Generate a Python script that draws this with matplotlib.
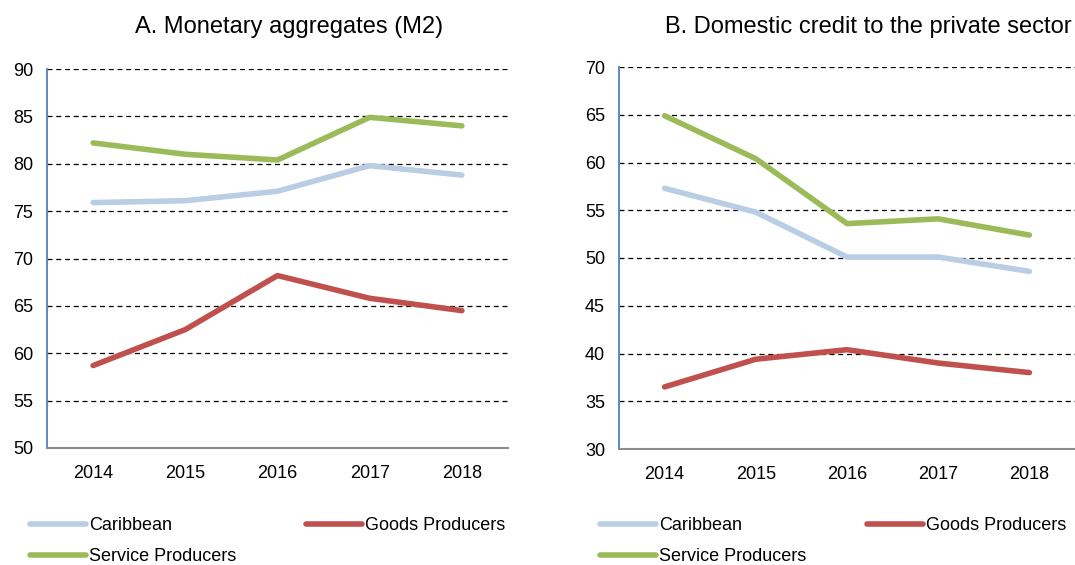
import numpy as np
import matplotlib.pyplot as plt

plt.rcParams['font.family'] = ['Liberation Sans', 'DejaVu Sans']

years = ['2014', '2015', '2016', '2017', '2018']

# Panel A: monetary aggregates (M2)
m2_caribbean = [75.9, 76.1, 77.1, 79.8, 78.8]
m2_goods = [58.7, 62.5, 68.2, 65.8, 64.5]
m2_service = [82.2, 81.0, 80.4, 84.9, 84.0]

# Panel B: domestic credit to the private sector
cr_caribbean = [57.3, 54.8, 50.1, 50.1, 48.6]
cr_goods = [36.5, 39.4, 40.4, 39.0, 38.0]
cr_service = [64.9, 60.4, 53.6, 54.1, 52.4]

series_names = ['Caribbean', 'Goods Producers', 'Service Producers']
colors = ['#B9CDE5', '#C0504D', '#9BBB59']

fig = plt.figure(figsize=(10.75, 5.65), dpi=100)
W, H = 1075, 565
axA = fig.add_axes([47 / W, 1 - 448 / H, (508 - 47) / W, (448 - 69) / H])
axB = fig.add_axes([619 / W, 1 - 449 / H, (1075 - 619) / W, (449 - 67) / H])


def draw(ax, data, ylim, title, title_x, legend_x, colspace):
    x = np.arange(len(years))
    lines = []
    for vals, c, name in zip(data, colors, series_names):
        l, = ax.plot(x, vals, color=c, lw=4, label=name, solid_capstyle='round')
        lines.append(l)
    ax.set_xlim(-0.5, len(years) - 0.5)
    ax.set_ylim(*ylim)
    ax.set_yticks(np.arange(ylim[0], ylim[1] + 1, 5))
    ax.set_xticks(x)
    ax.set_xticklabels(years)
    ax.tick_params(axis='y', length=0, labelsize=13, pad=10)
    ax.tick_params(axis='x', length=0, labelsize=13, pad=12)
    ax.yaxis.grid(True, color='black', linestyle=(0, (4, 3)), lw=0.9)
    ax.set_axisbelow(True)
    for s in ['top', 'right']:
        ax.spines[s].set_visible(False)
    ax.spines['left'].set_color('#4F81BD')
    ax.spines['left'].set_linewidth(1.3)
    ax.spines['bottom'].set_color('#8C8C8C')
    ax.spines['bottom'].set_linewidth(1.5)
    fig.text(title_x / W, 1 - 27 / H, title, fontsize=17, ha='center', va='center')
    # column-major fill: Caribbean, Service | Goods
    order = [lines[0], lines[2], lines[1]]
    fig.legend(handles=order, loc='upper left', ncol=2,
               bbox_to_anchor=(legend_x / W, 1 - 508 / H),
               frameon=False, fontsize=13, handlelength=3.1, borderpad=0,
               handletextpad=0.15, columnspacing=colspace, labelspacing=0.8)


draw(axA, [m2_caribbean, m2_goods, m2_service], (50, 90),
     'A. Monetary aggregates (M2)', 289, 21, 3.9)
draw(axB, [cr_caribbean, cr_goods, cr_service], (30, 70),
     'B. Domestic credit to the private sector', 868, 591, 3.4)

fig.savefig('out.png', dpi=100)
